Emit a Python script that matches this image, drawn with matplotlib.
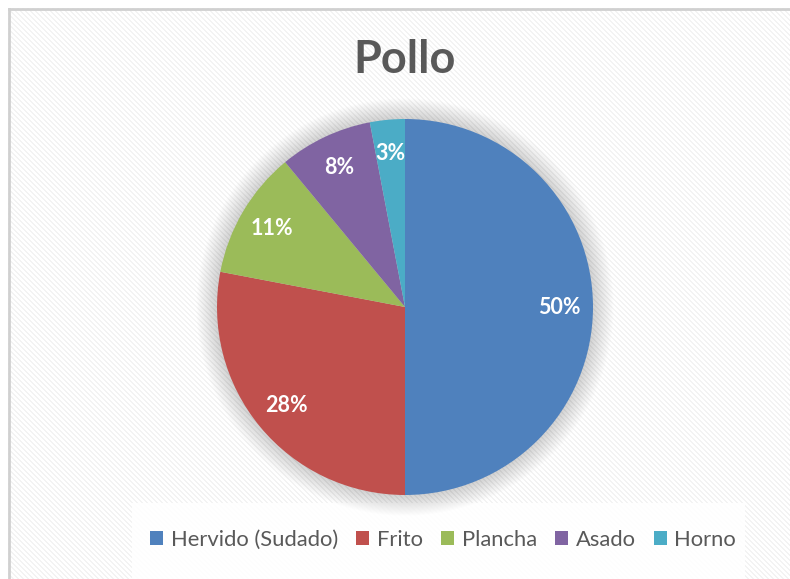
import numpy as np
import matplotlib
matplotlib.use("Agg")
import matplotlib.pyplot as plt
from matplotlib.patches import Rectangle, Circle, Patch

categories = ["Hervido (Sudado)", "Frito", "Plancha", "Asado", "Horno"]
values = [50, 28, 11, 8, 3]
colors = ["#4F81BD", "#C0504D", "#9BBB59", "#8064A2", "#4BACC6"]
title = "Pollo"

W, H = 790, 579
fig = plt.figure(figsize=(W / 100, H / 100), dpi=100)
fig.patch.set_facecolor("white")

# background stripe pattern
bg = fig.add_axes([0, 0, 1, 1])
ii, jj = np.mgrid[0:H, 0:W]
pat = np.where(((ii - jj) % 5) < 2, 0.955, 1.0)
bg.imshow(pat, cmap="gray", vmin=0, vmax=1, aspect="auto", extent=[0, W, H, 0], interpolation="nearest")
bg.set_xlim(0, W)
bg.set_ylim(H, 0)
bg.axis("off")
# border
bg.plot([8.5, 8.5], [H, 8.5], color="#d0d0d0", lw=2)
bg.plot([8.5, W], [8.5, 8.5], color="#d0d0d0", lw=2)
bg.add_patch(Rectangle((0, 0), 7.5, H, facecolor="white", edgecolor="none"))
bg.add_patch(Rectangle((0, 0), W, 7.5, facecolor="white", edgecolor="none"))
# legend box
bg.add_patch(Rectangle((132, 503), 613, 76, facecolor="white", edgecolor="none", alpha=0.9))

# pie
cx, cy, r = 405, 307, 188
ax = fig.add_axes([(cx - r) / W, 1 - (cy + r) / H, 2 * r / W, 2 * r / H])
ax.set_xlim(-1, 1)
ax.set_ylim(-1, 1)
ax.axis("off")
for k in range(22):
    rr = 1.0 + 0.005 * (k + 1)
    ax.add_patch(Circle((0, 0), rr, facecolor="#000000", edgecolor="none", alpha=0.009, clip_on=False, zorder=0))
wedges, texts, autotexts = ax.pie(values, colors=colors, startangle=90, counterclock=False,
                                  radius=1.0, autopct="%d%%", pctdistance=0.82,
                                  wedgeprops=dict(linewidth=0),
                                  textprops=dict(color="white", fontsize=15.5, fontweight="bold", family="Lato"))
for w in wedges:
    w.set_zorder(2)
for t in autotexts:
    t.set_zorder(3)
ax.set_xlim(-1, 1)
ax.set_ylim(-1, 1)

fig.text(cx / W, 1 - 60 / H, title, ha="center", va="center", fontsize=32.5, fontweight="bold",
         color="#595959", family="Lato")

handles = [Patch(facecolor=c, edgecolor="none") for c in colors]
leg = fig.legend(handles, categories, loc="center", bbox_to_anchor=(443 / W, 1 - 540 / H), ncol=5,
                 frameon=False, handlelength=0.6, handleheight=0.6, handletextpad=0.35,
                 columnspacing=0.82, prop=dict(family="Lato", size=15.8))
for t in leg.get_texts():
    t.set_color("#595959")

fig.savefig("out.png", dpi=100)
